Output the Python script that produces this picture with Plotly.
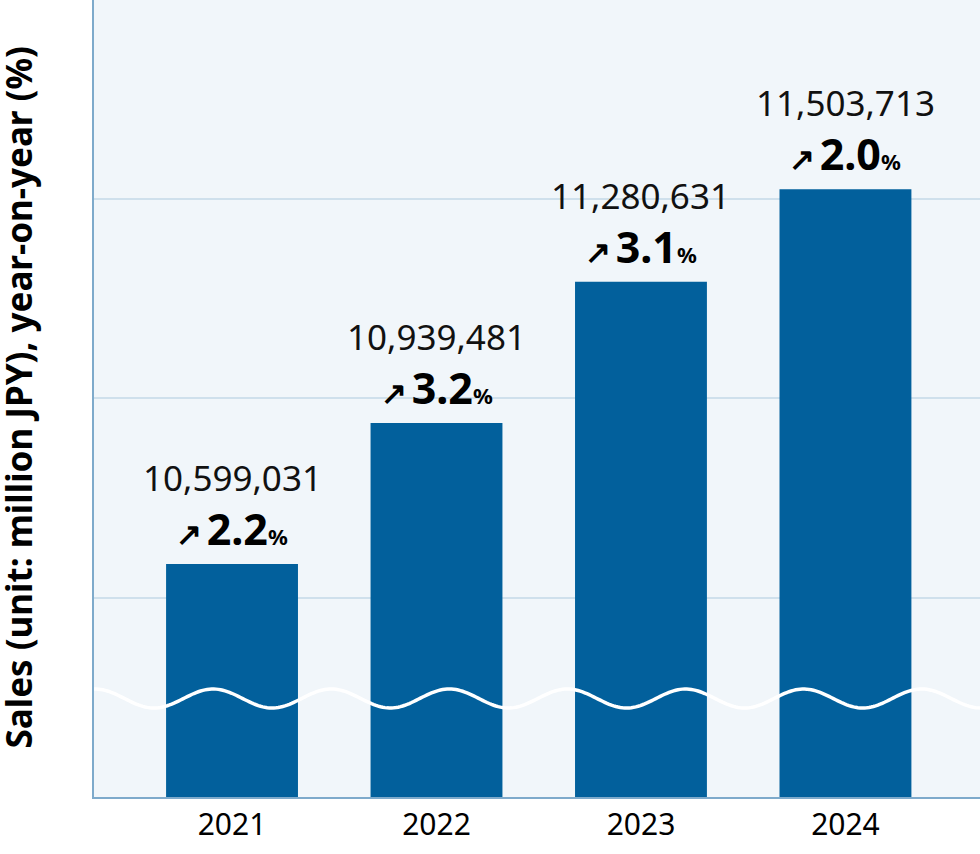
import numpy as np
import plotly.graph_objects as go

years = ['2021', '2022', '2023', '2024']
sales = [10599031, 10939481, 11280631, 11503713]
yoy = [2.2, 3.2, 3.1, 2.0]
ytitle = 'Sales (unit: million JPY), year-on-year (%)'

bar_color = '#02609c'
bg_color = '#f1f6fa'
axis_color = '#7eaacb'
grid_color = '#cfe0ec'

# broken axis: bottom of plot does not start at zero
y_lo, y_hi = 10036684, 11960642
step = (y_hi - y_lo) / 797 * 199.3
grid_vals = [y_lo + step * k for k in (1, 2, 3)]

fig = go.Figure()
fig.add_trace(go.Bar(x=list(range(len(years))), y=sales, marker_color=bar_color,
                     width=0.645, marker_line_width=0, hoverinfo='skip'))

# value + yoy labels
for i, (v, p) in enumerate(zip(sales, yoy)):
    fig.add_annotation(x=i, y=v, yanchor='bottom', showarrow=False, yshift=4,
                       text="<b><span style='font-size:31px'>↗</span></b>"
                            "<span style='font-size:18px'> </span><b>%.1f</b>"
                            "<b><span style='font-size:22px'>%%</span></b>" % p,
                       font=dict(size=43, color='#000000', family='Noto Sans'))
    fig.add_annotation(x=i, y=v, yanchor='bottom', showarrow=False, yshift=61,
                       text='{:,}'.format(v),
                       font=dict(size=35, color='#111111', family='Noto Sans'))

# wavy break mark
xs = np.linspace(0, 1, 400)
px = 94 + xs * 886
ys = (797 - 698.5 + 9.5 * np.cos(2 * np.pi * (px - 95) / 118.1)) / 797
path = 'M ' + ' L '.join('%.5f,%.5f' % (a, b) for a, b in zip(xs, ys))
fig.add_shape(type='path', path=path, xref='paper', yref='paper',
              line=dict(color='white', width=3.5), layer='above')

# y title as rotated text near the left edge
fig.add_annotation(text='<b>' + ytitle + '</b>', xref='paper', yref='paper',
                   x=0, y=0.5, xanchor='center', yanchor='middle', xshift=-76,
                   yshift=1, textangle=-90, showarrow=False, borderpad=0,
                   font=dict(size=35, color='#000000'))

fig.update_layout(
    width=980, height=854,
    margin=dict(l=94, r=0, t=0, b=57),
    paper_bgcolor='white', plot_bgcolor=bg_color,
    showlegend=False,
    font=dict(family='Noto Sans', color='#000000'),
)
fig.update_xaxes(tickvals=list(range(len(years))), ticktext=years,
                 range=[-0.675, 3.658], showline=True,
                 linecolor=axis_color, linewidth=2, ticks='', showgrid=False,
                 zeroline=False, tickfont=dict(size=30, color='#000000'),
                 ticklabelstandoff=0)
fig.update_yaxes(range=[y_lo, y_hi], showline=True, linecolor=axis_color,
                 linewidth=2, tickvals=grid_vals, showticklabels=False,
                 gridcolor=grid_color, gridwidth=1.5, zeroline=False)

fig.write_html('out.html', config={'displayModeBar': False},
               post_script="document.body.style.margin='0';")
